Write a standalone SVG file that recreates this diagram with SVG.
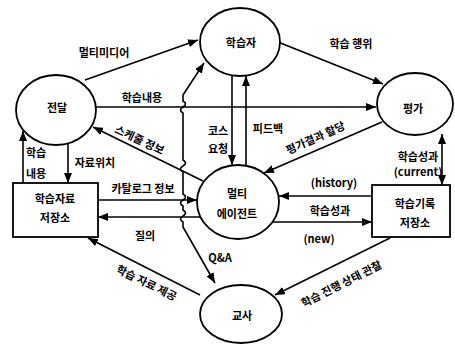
<svg xmlns="http://www.w3.org/2000/svg" width="455" height="345" viewBox="0 0 455 345">
<style>
.n{fill:#fff;stroke:#000;stroke-width:1.8}
.t{font-family:"Noto Sans CJK KR","Noto Sans",sans-serif;font-size:11px;font-weight:bold;fill:#000;text-anchor:middle;dominant-baseline:central}
.e{fill:none;stroke:#000;stroke-width:1.6}
.a{marker-end:url(#ah)}
.b{marker-start:url(#ah);marker-end:url(#ah)}
</style>
<defs>
<marker id="ah" markerUnits="userSpaceOnUse" markerWidth="11" markerHeight="8" refX="10" refY="4" orient="auto-start-reverse">
<path d="M0,0 L10,4 L0,8 Z" fill="#000"/>
</marker>
</defs>
<rect width="455" height="345" fill="#fff"/>
<g id="edges">
<path class="e a" d="M85,80 L198,40"/>
<path class="e a" d="M278,42 L383,84"/>
<path class="e a" d="M96,107 L376,107"/>
<path class="e a" d="M232,75 L232,165"/>
<path class="e a" d="M246,166 L246,76"/>
<path class="e a" d="M382,122 L264,173"/>
<path class="e a" d="M203,181 L93,127"/>
<path class="e a" d="M23,183 L23,131"/>
<path class="e a" d="M68,143 L68,183"/>
<path class="e a" d="M98,200 L197,200"/>
<path class="e a" d="M200,217 L98,217"/>
<path class="e a" d="M372,196 L279,196"/>
<path class="e a" d="M273,222 L372,222"/>
<path class="e b" d="M442,134 L442,185"/>
<path class="e a" d="M200,295 L88,238"/>
<path class="e a" d="M390,238 L275,295"/>
<path class="e b" d="M204,63 L183,95 L183,101 Q188,104 183,107 Q178,110 183,113 L183,160 Q188,163 183,166 Q178,169 183,172 L183,194 Q188,197 183,200 Q178,203 183,206 L183,210 Q188,213 183,216 Q178,219 183,222 L183,227 L215,283"/>
</g>
<g id="learner"><ellipse class="n" cx="240" cy="42" rx="40" ry="34"/><text class="t" x="241" y="42">학습자</text></g>
<g id="deliver"><ellipse class="n" cx="56" cy="110" rx="40" ry="35"/><text class="t" x="57" y="107">전달</text></g>
<g id="eval"><ellipse class="n" cx="415" cy="104" rx="38" ry="31"/><text class="t" x="413" y="108">평가</text></g>
<g id="agent"><ellipse class="n" cx="238" cy="202" rx="41" ry="37"/><text class="t" x="237" y="193">멀티</text><text class="t" x="237" y="213">에이전트</text></g>
<g id="teacher"><ellipse class="n" cx="241" cy="314" rx="41" ry="29"/><text class="t" x="242" y="315">교사</text></g>
<g id="store"><rect class="n" x="13" y="183" width="85" height="54"/><text class="t" x="55" y="198">학습자료</text><text class="t" x="55" y="217">저장소</text></g>
<g id="record"><rect class="n" x="372" y="185" width="78" height="52"/><text class="t" x="415" y="203">학습기록</text><text class="t" x="415" y="222">저장소</text></g>
<g id="labels">
<text class="t" x="104" y="52">멀티미디어</text>
<text class="t" x="142" y="97">학습내용</text>
<text class="t" x="351" y="43">학습 행위</text>
<text class="t" x="140" y="139" transform="rotate(25 140 139)">스케줄 정보</text>
<text class="t" x="36" y="152">학습</text>
<text class="t" x="36" y="173">내용</text>
<text class="t" x="95" y="162">자료위치</text>
<text class="t" x="143" y="188">카탈로그 정보</text>
<text class="t" x="218" y="130">코스</text>
<text class="t" x="218" y="148">요청</text>
<text class="t" x="268" y="128">피드백</text>
<text class="t" x="315" y="137" transform="rotate(-24 315 137)">평가결과 할당</text>
<text class="t" x="334" y="182">(history)</text>
<text class="t" x="330" y="210">학습성과</text>
<text class="t" x="319" y="238">(new)</text>
<text class="t" x="418" y="156">학습성과</text>
<text class="t" x="418" y="171">(current)</text>
<text class="t" x="145" y="235">질의</text>
<text class="t" x="220" y="257">Q&amp;A</text>
<text class="t" x="147" y="282" transform="rotate(26 147 282)">학습 자료 제공</text>
<text class="t" x="341" y="283" transform="rotate(-27 341 283)">학습 진행 상태 관찰</text>
</g>
</svg>
